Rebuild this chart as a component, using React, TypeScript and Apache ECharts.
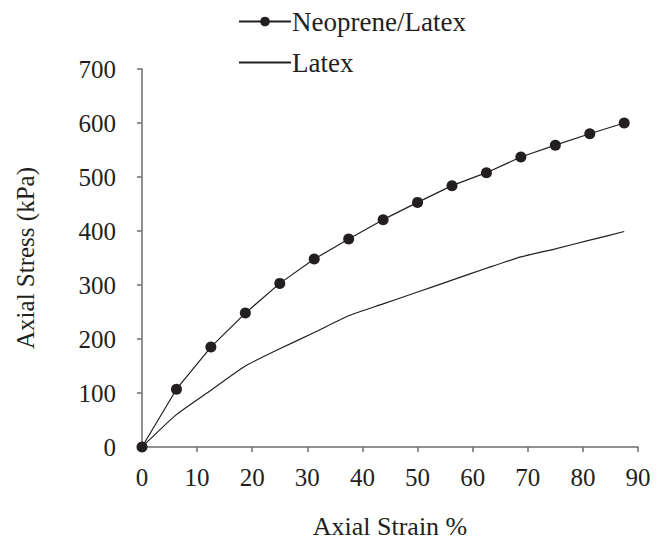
import React, { useEffect, useRef } from "react";
import * as echarts from "echarts";

const strain: number[] = [0, 6.25, 12.5, 18.75, 25, 31.25, 37.5, 43.75, 50, 56.25, 62.5, 68.75, 75, 81.25, 87.5];
const neopreneLatex: number[] = [0, 107, 185, 248, 303, 348, 385, 421, 453, 484, 508, 537, 559, 580, 600];
const latex: number[] = [0, 60, 105, 150, 182, 212, 243, 265, 287, 309, 331, 352, 367, 383, 399];
const xTicks = { min: 0, max: 90, interval: 10 };
const yTicks = { min: 0, max: 700, interval: 100 };
const seriesNames: string[] = ["Neoprene/Latex", "Latex"];

const FONT = "Times New Roman, Liberation Serif, DejaVu Serif, serif";
const INK = "#231f20";

export default function App() {
  const ref = useRef<HTMLDivElement>(null);
  useEffect(() => {
    if (!ref.current) return;
    const chart = echarts.init(ref.current, undefined, { renderer: "svg" });
    chart.setOption({
      animation: false,
      backgroundColor: "#ffffff",
      textStyle: { fontFamily: FONT, color: INK },
      legend: {
        orient: "vertical",
        left: 233,
        top: 3,
        itemWidth: 52,
        itemHeight: 12,
        itemGap: 14,
        textStyle: { fontFamily: FONT, fontSize: 27, color: INK, padding: [0, 0, 0, -4] },
        data: [
          { name: seriesNames[0] },
          { name: seriesNames[1], itemStyle: { opacity: 0 } },
        ],
      },
      grid: { left: 142, right: 32, top: 69, bottom: 94, containLabel: false },
      xAxis: {
        type: "value",
        min: xTicks.min,
        max: xTicks.max,
        interval: xTicks.interval,
        name: "Axial Strain %",
        nameLocation: "middle",
        nameGap: 66,
        nameTextStyle: { fontFamily: FONT, fontSize: 26, color: INK },
        axisLine: { show: true, lineStyle: { color: "#6d6e71", width: 1.5 } },
        axisTick: { show: true, length: 5, lineStyle: { color: "#6d6e71", width: 1.5 } },
        axisLabel: { fontFamily: FONT, fontSize: 25, color: INK, margin: 18 },
        splitLine: { show: false },
      },
      yAxis: {
        type: "value",
        min: yTicks.min,
        max: yTicks.max,
        interval: yTicks.interval,
        name: "Axial Stress (kPa)",
        nameLocation: "middle",
        nameGap: 104,
        nameTextStyle: { fontFamily: FONT, fontSize: 25, color: INK },
        axisLine: { show: true, lineStyle: { color: "#6d6e71", width: 1.5 } },
        axisTick: { show: true, length: 5, lineStyle: { color: "#6d6e71", width: 1.5 } },
        axisLabel: { fontFamily: FONT, fontSize: 25, color: INK, margin: 26 },
        splitLine: { show: false },
      },
      series: [
        {
          name: seriesNames[0],
          type: "line",
          data: strain.map((x, i) => [x, neopreneLatex[i]]),
          symbol: "circle",
          symbolSize: 11,
          showSymbol: true,
          itemStyle: { color: INK },
          lineStyle: { color: INK, width: 1.2 },
          z: 3,
        },
        {
          name: seriesNames[1],
          type: "line",
          data: strain.map((x, i) => [x, latex[i]]),
          symbol: "none",
          smooth: 0.2,
          itemStyle: { color: INK },
          lineStyle: { color: INK, width: 1.2 },
          z: 2,
        },
      ],
    });
    return () => chart.dispose();
  }, []);
  return (
    <div
      ref={ref}
      style={{ position: "absolute", left: 0, top: 0, width: 670, height: 544 }}
    />
  );
}
